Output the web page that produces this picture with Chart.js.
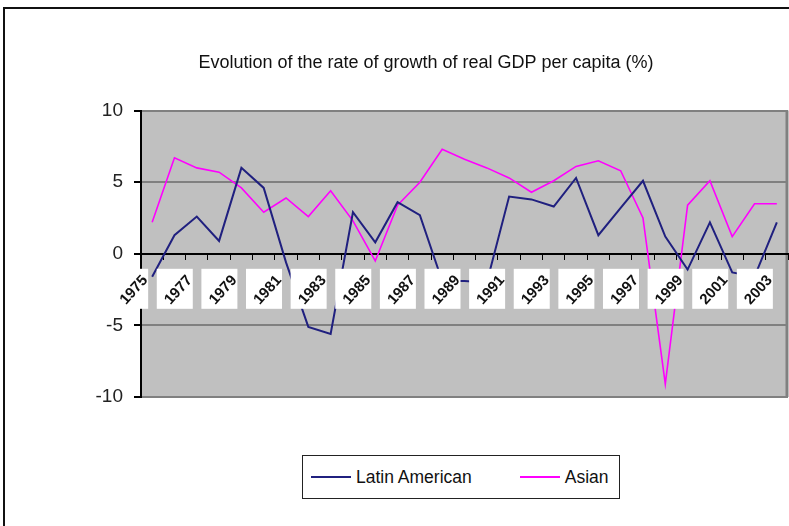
<!DOCTYPE html>
<html>
<head>
<meta charset="utf-8">
<script src="https://cdn.jsdelivr.net/npm/chart.js@4.4.1/dist/chart.umd.min.js"></script>
<style>
  html, body { margin: 0; padding: 0; background: #fff; overflow: hidden; }
  #wrap { position: relative; width: 789px; height: 526px; }
  #frame { position: absolute; left: 3px; top: 7px; width: 900px; height: 600px;
           border: 2px solid #111; box-sizing: border-box; }
  #chart { position: absolute; left: 0; top: 0; }
  #legend { position: absolute; left: 302px; top: 455px; width: 318px; height: 44px;
            border: 1.5px solid #222; box-sizing: border-box; background: #fff;
            font-family: 'Liberation Sans', Arial, sans-serif; white-space: nowrap;
            font-size: 17.5px; color: #111; display: flex; align-items: center; }
  .item { display: flex; align-items: center; }
  .swatch { display: inline-block; width: 40px; height: 2px; margin-right: 5px; }
</style>
</head>
<body>
<div id="wrap">
  <div id="frame"></div>
  <canvas id="chart" width="789" height="526"></canvas>
  <div id="legend"></div>
</div>
<script>
'use strict';
/* ============================================================
   GDP per capita growth — Latin America vs Asia, 1975–2003
   ============================================================ */

const FONT = "'Liberation Sans', Arial, sans-serif";

const years = ['1975','1976','1977','1978','1979','1980','1981','1982','1983','1984',
               '1985','1986','1987','1988','1989','1990','1991','1992','1993','1994',
               '1995','1996','1997','1998','1999','2000','2001','2002','2003'];

const latinAmerican = [-1.6, 1.3, 2.6, 0.9, 6.0, 4.6, -0.6, -5.1, -5.6, 2.9,
                        0.8, 3.6, 2.7, -1.9, -1.9, -2.0, 4.0, 3.8, 3.3, 5.3,
                        1.3, 3.2, 5.1, 1.2, -1.1, 2.2, -1.3, -1.6, 2.2];

const asian = [2.2, 6.7, 6.0, 5.7, 4.6, 2.9, 3.9, 2.6, 4.4, 2.3,
               -0.5, 3.4, 5.0, 7.3, 6.6, 6.0, 5.3, 4.3, 5.1, 6.1,
               6.5, 5.8, 2.5, -9.1, 3.4, 5.1, 1.2, 3.5, 3.5];

const seriesNames  = ['Latin American', 'Asian'];
const seriesColors = ['#20207f', '#ff00ff'];
const yTicks = [-10, -5, 0, 5, 10];

// ── Fond gris de la zone de tracé + bord droit ─────────────────
const plotFrame = {
  id: 'plotFrame',
  beforeDraw(chart) {
    const { ctx, chartArea: a } = chart;
    ctx.save();
    ctx.fillStyle = '#c0c0c0';
    ctx.fillRect(a.left, a.top, a.right - a.left, a.bottom - a.top);
    ctx.strokeStyle = '#808080';
    ctx.lineWidth = 3;
    ctx.beginPath();
    ctx.moveTo(a.right - 1, a.top);
    ctx.lineTo(a.right - 1, a.bottom);
    ctx.stroke();
    ctx.restore();
  }
};

// ── Étiquettes d'années dans des cases blanches, sur l'axe 0 ───
const yearBoxes = {
  id: 'yearBoxes',
  afterDatasetsDraw(chart) {
    const { ctx, scales: { x, y } } = chart;
    const y0 = y.getPixelForValue(0);
    ctx.save();
    ctx.font = `bold 15px ${FONT}`;
    ctx.textAlign = 'right';
    ctx.textBaseline = 'middle';
    years.forEach((label, i) => {
      if (i % 2) return;
      const px = x.getPixelForValue(i);
      ctx.fillStyle = '#fff';
      ctx.fillRect(px - 40, y0 + 15, 36, 40);
      ctx.save();
      ctx.translate(px - 7, y0 + 24);
      ctx.rotate(-48 * Math.PI / 180);
      ctx.fillStyle = '#111';
      ctx.fillText(label, 0, 0);
      ctx.restore();
    });
    ctx.restore();
  }
};

new Chart(document.getElementById('chart'), {
  type: 'line',
  data: {
    labels: years,
    datasets: [
      { label: seriesNames[0], data: latinAmerican, borderColor: seriesColors[0],
        backgroundColor: seriesColors[0], borderWidth: 2, pointRadius: 0, tension: 0 },
      { label: seriesNames[1], data: asian, borderColor: seriesColors[1],
        backgroundColor: seriesColors[1], borderWidth: 1.6, pointRadius: 0, tension: 0 }
    ]
  },
  options: {
    responsive: false,
    animation: false,
    layout: { padding: { left: 64, right: 1, top: 0, bottom: 129 } },
    plugins: {
      legend: { display: false },
      tooltip: { enabled: false },
      title: {
        display: true,
        text: 'Evolution of the rate of growth of real GDP per capita (%)',
        color: '#111',
        font: { family: FONT, size: 18, weight: 'normal' },
        padding: { top: 52, bottom: 37 }
      }
    },
    scales: {
      x: {
        type: 'category',
        position: { y: 0 },
        offset: true,
        grid: { offset: true, drawOnChartArea: false, drawTicks: true, tickLength: 5,
                color: '#000', lineWidth: 1 },
        border: { color: '#000', width: 2 },
        ticks: { display: false }
      },
      y: {
        min: -10,
        max: 10,
        afterFit(scale) { scale.width = 77; },
        afterBuildTicks(scale) { scale.ticks = yTicks.map(v => ({ value: v })); },
        ticks: { color: '#222', padding: 11, font: { family: FONT, size: 19 } },
        grid: {
          color: c => (c.tick && c.tick.value === 0 ? '#000' : '#808080'),
          lineWidth: 2,
          tickLength: 7,
          tickColor: '#000'
        },
        border: { color: '#000', width: 2 }
      }
    }
  },
  plugins: [plotFrame, yearBoxes]
});

// ── Légende ───────────────────────────────────────────────────
document.getElementById('legend').innerHTML = seriesNames.map((name, i) => `
  <span class="item" style="margin-left:${i ? 48 : 8}px">
    <span class="swatch" style="background:${seriesColors[i]}"></span>${name}
  </span>`).join('');
</script>
</body>
</html>
